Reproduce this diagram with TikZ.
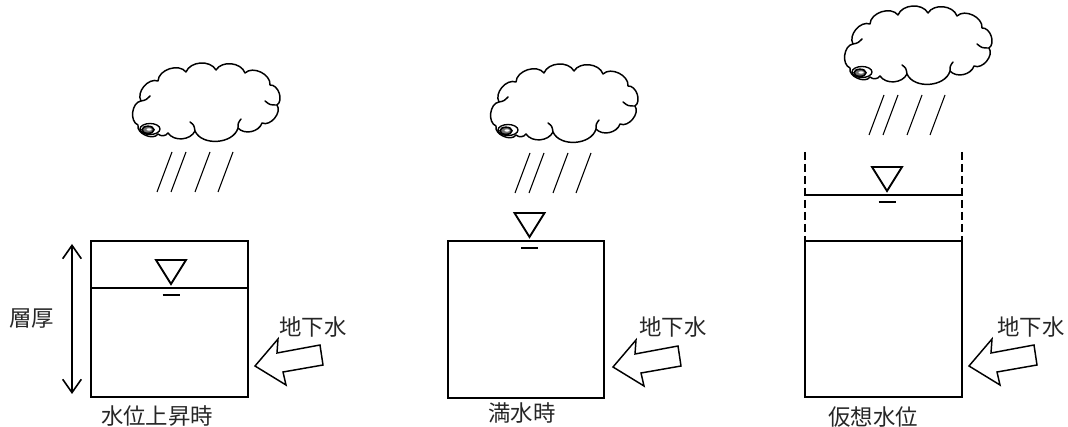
\documentclass[tikz,border=0pt]{standalone}
\usepackage{fontspec}
\newfontfamily\jp{Noto Sans CJK JP}
\usetikzlibrary{arrows.meta}

\tikzset{
  box/.style={line width=1.5pt},
  cloudline/.style={line width=1.1pt, line cap=round, line join=round},
  rainline/.style={line width=0.8pt},
  lbl/.style={font=\jp\fontsize{16.8}{18}\selectfont, text=black!85, inner sep=0pt},
  flow/.style={draw, line width=1.1pt, fill=white, line join=miter},
  thick arrow/.style={line width=1.2pt, {Straight Barb[length=10pt,width=14pt]}-{Straight Barb[length=10pt,width=14pt]}},
  pics/cloud/.style={code={
    % scalloped outline, clockwise from the swirl
    \draw[cloudline] (-12,-4)
      to[bend left=75] (-9,-28)
      to[bend left=70] (8,-48)
      to[bend left=70] (36,-57)
      to[bend left=65] (66,-59)
      to[bend left=65] (95,-56)
      to[bend left=70] (120,-44)
      to[bend left=75] (127,-24)
      to[bend left=75] (112,-6)
      to[bend left=60] (88,-1)
      to[bend left=70] (45,2)
      to[bend left=60] (18,4)
      to[bend left=50] (8,5)
      to[bend left=80] cycle;
    % small curls where the bumps meet
    \draw[cloudline] (-9,-28) .. controls (-4,-29) .. (0,-33);
    \draw[cloudline] (127,-24) .. controls (120,-24) .. (115,-28);
    \draw[cloudline] (45,2) .. controls (44,-4) .. (40,-7);
    \draw[cloudline] (88,-1) .. controls (88,-6) .. (91,-10);
    % swirl
    \draw[line width=1pt, fill=white] (0,0) ellipse [x radius=10, y radius=5.5];
    \draw[line width=1.2pt, fill=black!55] (-2,0.8) ellipse [x radius=6, y radius=3.6];
    \fill[white] (-1,0.5) ellipse [x radius=2.5, y radius=1.2];
    % rain
    \draw[rainline] (22,23) -- (7,63);
    \draw[rainline] (36,23) -- (21,63);
    \draw[rainline] (60,23) -- (45,63);
    \draw[rainline] (83,23) -- (68,63);
  }},
  pics/gwarrow/.style={code={
    \draw[flow] (0,0) -- (23,-27) -- (22,-13) -- (65,-21) -- (68,-1) -- (28,6) -- (31,19) -- cycle;
  }},
  pics/wlevel/.style={code={
    \draw[line width=1.4pt, line join=miter] (-15,-28) -- (15,-28) -- (0,-4) -- cycle;
    \draw[line width=1.6pt] (-8.5,7) -- (8.5,7);
  }}
}

\begin{document}
\begin{tikzpicture}[x=0.75pt,y=-0.75pt]
\useasboundingbox (0,0) rectangle (1068,427);

% ---- rising water level ----
\pic at (150,129) {cloud};
\draw[box] (91,241) rectangle (248,397);
\draw[box] (91,288) -- (248,288);
\pic at (171,288) {wlevel};
\coordinate (thtop) at (72,244);
\coordinate (thbot) at (72,394);
\draw[thick arrow] (thtop) -- (thbot);
\node[lbl] (thick) at (32,319) {層厚};
\pic at (255,366) {gwarrow};
\node[lbl] (gw1) at (313,327) {地下水};
\node[lbl] (cap1) at (157,416) {水位上昇時};

% ---- full ----
\pic at (508,130) {cloud};
\draw[box] (448,241) rectangle (604,398);
\pic at (529.5,241) {wlevel};
\pic at (613,367) {gwarrow};
\node[lbl] (gw2) at (673,327) {地下水};
\node[lbl] (cap2) at (522,413) {満水時};

% ---- virtual water level ----
\pic at (862,72) {cloud};
\draw[box] (805,241) rectangle (962,397);
\draw[box, dash pattern=on 6pt off 3pt] (805,152) -- (805,241);
\draw[box, dash pattern=on 6pt off 3pt] (962,152) -- (962,241);
\draw[line width=1.3pt] (805,195) -- (962,195);
\pic at (887,195) {wlevel};
\pic at (969,366) {gwarrow};
\node[lbl] (gw3) at (1031,327) {地下水};
\node[lbl] (cap3) at (873,417) {仮想水位};
\end{tikzpicture}
\end{document}
